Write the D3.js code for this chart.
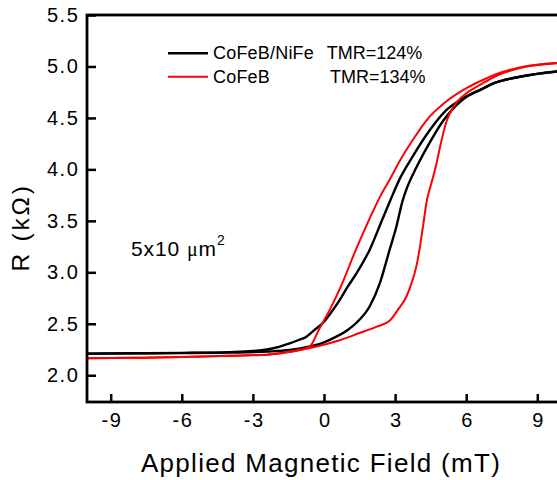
<!DOCTYPE html>
<html>
<head>
<meta charset="utf-8">
<script src="https://cdn.jsdelivr.net/npm/d3@7"></script>
<style>
  html, body { margin: 0; padding: 0; background: #fff; overflow: hidden; }
  svg { display: block; }
  text { font-family: "Liberation Sans", Arial, sans-serif; fill: #000; }
</style>
</head>
<body>
<svg id="chart" width="557" height="480"></svg>
<script>
// ---- data (field in mT, resistance in kOhm) ----
const xTicks = [-9, -6, -3, 0, 3, 6, 9];
const yTicks = [2.0, 2.5, 3.0, 3.5, 4.0, 4.5, 5.0, 5.5];

// CoFeB/NiFe, sweep from + to - (left branch)
const blackDown = [[-10,2.21],[-8,2.213],[-6,2.217],[-4,2.225],[-3,2.235],[-2.4,2.25],[-1.9,2.275],[-1.45,2.31],[-1.1,2.34],[-0.74,2.375],[-0.4,2.44],[-0.04,2.51],[0.3,2.61],[0.66,2.73],[1.0,2.86],[1.37,2.99],[1.93,3.22],[2.49,3.53],[2.8,3.70],[3.2,3.91],[3.7,4.11],[4.46,4.38],[5.16,4.575],[5.86,4.69],[6.57,4.77],[7.2,4.84],[8.26,4.90],[10,4.955]];
// CoFeB/NiFe, sweep from - to + (right branch)
const blackUp = [[-10,2.21],[-8,2.212],[-6,2.215],[-4,2.22],[-2.4,2.23],[-1.45,2.245],[-0.6,2.28],[0,2.32],[0.52,2.375],[1.0,2.44],[1.37,2.51],[1.93,2.67],[2.35,2.89],[2.77,3.22],[3.05,3.44],[3.31,3.69],[3.5,3.82],[3.9,4.02],[4.46,4.26],[5.02,4.47],[5.59,4.625],[6.15,4.725],[6.57,4.77],[7.2,4.84],[8.26,4.90],[10,4.955]];
// CoFeB, sweep from + to - (left branch)
const redDown = [[-10,2.165],[-8,2.17],[-6,2.177],[-4,2.19],[-2.4,2.20],[-1.45,2.225],[-1.0,2.245],[-0.6,2.28],[-0.2,2.45],[0.24,2.635],[0.8,2.91],[1.22,3.15],[1.65,3.38],[2.0,3.56],[2.4,3.75],[2.77,3.90],[3.19,4.08],[3.76,4.29],[4.3,4.47],[5.16,4.66],[6.01,4.79],[6.57,4.855],[7.2,4.92],[8.26,4.99],[10,5.035]];
// CoFeB, sweep from - to + (right branch)
const redUp = [[-10,2.165],[-8,2.17],[-6,2.177],[-4,2.19],[-2.4,2.20],[-1.45,2.23],[-0.5,2.27],[0.66,2.34],[1.5,2.41],[2.2,2.47],[2.77,2.53],[3.1,2.63],[3.48,2.765],[3.7,2.90],[3.9,3.06],[4.05,3.25],[4.18,3.45],[4.35,3.71],[4.5,3.84],[4.74,4.05],[4.88,4.20],[5.16,4.46],[5.44,4.60],[6.01,4.74],[6.57,4.82],[7.2,4.90],[8.26,4.985],[10,5.035]];

const legendItems = [
  {name: "CoFeB/NiFe", tmr: "TMR=124%", color: "#000000"},
  {name: "CoFeB", tmr: "TMR=134%", color: "#ff0000"}
];

// ---- layout ----
const svg = d3.select("#chart");
const mLeft = 87, mRight = 561, mTop = 15, mBottom = 402;
const x = d3.scaleLinear().domain([-10, 10]).range([mLeft, mRight]);
const y = d3.scaleLinear().domain([1.74, 5.5]).range([mBottom, mTop]);

svg.append("defs").append("clipPath").attr("id", "clip")
  .append("rect").attr("x", mLeft).attr("y", mTop).attr("width", mRight - mLeft).attr("height", mBottom - mTop);

const line = d3.line().x(d => x(d[0])).y(d => y(d[1])).curve(d3.curveMonotoneX);
const g = svg.append("g").attr("clip-path", "url(#clip)");
const series = [
  {data: blackDown, color: "#000", w: 2.4},
  {data: blackUp, color: "#000", w: 2.4},
  {data: redUp, color: "#ff0000", w: 2.0},
  {data: redDown, color: "#ff0000", w: 2.0}
];
series.forEach(s => {
  g.append("path").datum(s.data).attr("d", line)
    .attr("fill", "none").attr("stroke", s.color).attr("stroke-width", s.w)
    .attr("stroke-linejoin", "round");
});

// axes
const xAxis = d3.axisBottom(x).tickValues(xTicks).tickSizeInner(-8).tickSizeOuter(0).tickPadding(11)
  .tickFormat(d3.format("d"));
const yAxis = d3.axisLeft(y).tickValues(yTicks).tickSizeInner(-9).tickSizeOuter(0).tickPadding(7.5)
  .tickFormat(d3.format(".1f"));

const gx = svg.append("g").attr("transform", `translate(0,${mBottom})`).call(xAxis);
const gy = svg.append("g").attr("transform", `translate(${mLeft},0)`).call(yAxis);
[gx, gy].forEach(a => {
  a.select(".domain").remove();
  a.selectAll(".tick line").attr("stroke", "#000").attr("stroke-width", 2.5);
  a.selectAll(".tick text").attr("font-family", "Liberation Sans, Arial, sans-serif")
    .attr("font-size", 20).attr("letter-spacing", "1.6px").attr("fill", "#000");
});
gx.selectAll(".tick text").text(d => d < 0 ? "-" + Math.abs(d) : String(d)).attr("dx", 0.8);

// frame
svg.append("rect").attr("x", mLeft).attr("y", mTop).attr("width", mRight - mLeft).attr("height", mBottom - mTop)
  .attr("fill", "none").attr("stroke", "#000").attr("stroke-width", 2.8);

// axis titles
svg.append("text").attr("x", 321).attr("y", 472).attr("text-anchor", "middle")
  .attr("font-size", 26).attr("letter-spacing", "1.3px").text("Applied Magnetic Field (mT)");
svg.append("text").attr("transform", "translate(29,227.5) rotate(-90)").attr("text-anchor", "middle")
  .attr("font-size", 24.5).attr("letter-spacing", "2.8px").text("R (kΩ)");

// legend
legendItems.forEach((it, i) => {
  const ly = 53.3 + i * 23.4;
  svg.append("line").attr("x1", 168).attr("x2", 208).attr("y1", ly).attr("y2", ly)
    .attr("stroke", it.color).attr("stroke-width", i === 0 ? 2.4 : 2);
  svg.append("text").attr("x", 213).attr("y", ly + 5.8).attr("font-size", 18).attr("letter-spacing", "0.2px").text(it.name);
  svg.append("text").attr("x", i === 0 ? 326.7 : 330).attr("y", ly + 5.8).attr("font-size", 18).text(it.tmr);
});

// annotation
const ann = svg.append("text").attr("x", 131).attr("y", 256).attr("font-size", 21).attr("letter-spacing", "0.9px");
ann.append("tspan").text("5x10 ");
ann.append("tspan").attr("font-family", "Liberation Serif, Times New Roman, serif").attr("font-size", 20).text("μ");
ann.append("tspan").text("m");
ann.append("tspan").attr("font-size", 14).attr("dy", -11).text("2");
</script>
</body>
</html>
